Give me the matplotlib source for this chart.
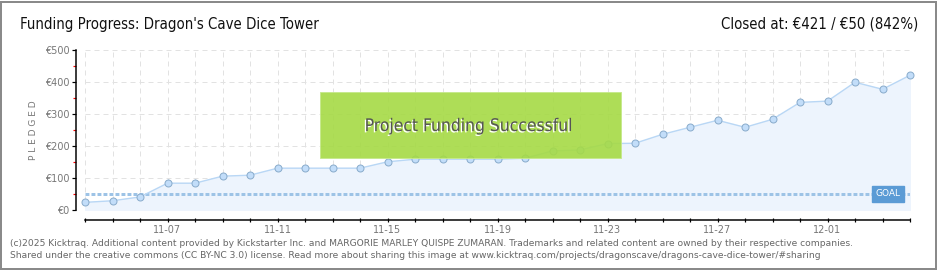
import numpy as np
import matplotlib.pyplot as plt
from matplotlib.patches import Rectangle
import matplotlib.patheffects as pe

# data
days = ['11-04', '11-05', '11-06', '11-07', '11-08', '11-09', '11-10', '11-11',
        '11-12', '11-13', '11-14', '11-15', '11-16', '11-17', '11-18', '11-19',
        '11-20', '11-21', '11-22', '11-23', '11-24', '11-25', '11-26', '11-27',
        '11-28', '11-29', '11-30', '12-01', '12-02', '12-03', '12-04']
pledged = [23, 28, 40, 83, 83, 105, 108, 130, 130, 130, 130, 150, 158, 158, 158,
           158, 161, 184, 187, 207, 208, 236, 258, 280, 258, 283, 336, 340, 399,
           377, 421]
goal = 50
shown_labels = ['11-07', '11-11', '11-15', '11-19', '11-23', '11-27', '12-01']
y_ticks = [0, 100, 200, 300, 400, 500]
y_labels = ['€0', '€100', '€200', '€300', '€400', '€500']

title = "Funding Progress: Dragon's Cave Dice Tower"
closed = "Closed at: €421 / €50 (842%)"
footer1 = ("(c)2025 Kicktraq. Additional content provided by Kickstarter Inc. and "
           "MARGORIE MARLEY QUISPE ZUMARAN. Trademarks and related content are owned "
           "by their respective companies.")
footer2 = ("Shared under the creative commons (CC BY-NC 3.0) license. Read more about "
           "sharing this image at www.kicktraq.com/projects/dragonscave/"
           "dragons-cave-dice-tower/#sharing")

W, H = 940, 270
px = 0.72  # points per pixel at dpi 100
head = dict(family='DejaVu Sans', fontstretch='condensed')

fig = plt.figure(figsize=(W / 100, H / 100), dpi=100)
fig.patch.set_facecolor('white')

# gray frame round the picture
fig.patches.append(Rectangle((1 / W, 1 / H), 935 / W, 267 / H, transform=fig.transFigure,
                             fill=False, edgecolor='#8a8a8a', lw=2 * px))

ax = fig.add_axes([85 / W, 1 - 209.7 / H, 825 / W, 159.7 / H])
x = np.arange(len(days))

ax.fill_between(x, pledged, 0, color='#edf4fd', zorder=1)
ax.plot(x, pledged, color='#b9d7f5', lw=1, zorder=3)
ax.plot(x, pledged, ls='none', marker='o', ms=7 * px, mfc='#c2ddf9', mec='#8aaccc',
        mew=1 * px, zorder=4, clip_on=False)

# goal line
ax.axhline(goal, color='#9dc3e6', lw=3 * px, ls=(0, (1.3, 0.7)), zorder=2)
ax.text(29.2, goal, 'GOAL', color='white', fontsize=6.5, ha='center', va='center',
        zorder=6, bbox=dict(boxstyle='square,pad=0.4', fc='#5b9bd5', ec='#5b9bd5'))

ax.set_xlim(0, len(days) - 1)
ax.set_ylim(0, 500)

for s in ['top', 'right']:
    ax.spines[s].set_visible(False)
ax.spines['left'].set_position(('outward', 9 * px))
ax.spines['bottom'].set_position(('outward', 10 * px))
ax.spines['left'].set_linewidth(1.5 * px)
ax.spines['bottom'].set_linewidth(1.5 * px)

ax.set_xticks(x)
ax.set_xticklabels([d if d in shown_labels else '' for d in days])
ax.tick_params(axis='x', direction='inout', length=5 * px, width=1.2 * px, colors='black',
               labelcolor='#777777', labelsize=7, pad=2)
ax.set_yticks(y_ticks)
ax.set_yticklabels(y_labels)
ax.set_yticks(np.arange(50, 500, 100), minor=True)
ax.tick_params(axis='y', which='major', direction='out', length=4 * px, width=1.2 * px,
               colors='black', labelcolor='#777777', labelsize=7, pad=2)
ax.tick_params(axis='y', which='minor', direction='out', length=3 * px, width=1.2 * px,
               colors='red')
ax.set_ylabel('P L E D G E D', color='#777777', fontsize=6.5, labelpad=5)

ax.grid(True, which='major', color='#e2e2e2', lw=1 * px, ls=(0, (5, 4)), zorder=0)
ax.set_axisbelow(True)

# success banner
fig.patches.append(Rectangle((320 / W, 1 - 158.3 / H), 301 / W, 66 / H,
                             transform=fig.transFigure, facecolor='#a5da45',
                             edgecolor='#c6e98c', lw=1 * px, alpha=0.9, zorder=5))
fig.text(469 / W, 1 - 126 / H, 'Project Funding Successful', fontsize=12.5,
         color='#555555', ha='center', va='center', zorder=6,
         path_effects=[pe.withSimplePatchShadow(offset=(-1, -1), shadow_rgbFace='white',
                                                alpha=1)], **head)

fig.text(20 / W, 1 - 24 / H, title, fontsize=10.7, color='#111111',
         ha='left', va='center', **head)
fig.text(918 / W, 1 - 24 / H, closed, fontsize=10.7, color='#111111',
         ha='right', va='center', **head)

fig.text(10 / W, 1 - 243 / H, footer1, fontsize=6.6, color='#666666', ha='left', va='center')
fig.text(10 / W, 1 - 255 / H, footer2, fontsize=6.6, color='#666666', ha='left', va='center')

fig.savefig('out.png', dpi=100)
